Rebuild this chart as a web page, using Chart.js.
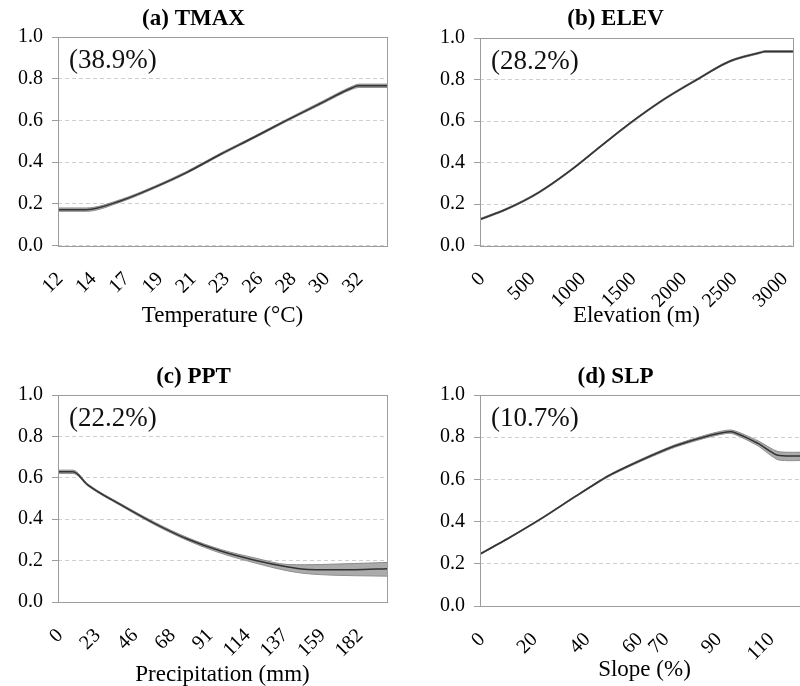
<!DOCTYPE html>
<html>
<head>
<meta charset="utf-8">
<script src="https://cdn.jsdelivr.net/npm/chart.js@4.4.0/dist/chart.umd.min.js"></script>
<style>
html, body { margin: 0; padding: 0; background: #fff; width: 800px; height: 686px; overflow: hidden; position: relative; }
.panel { position: absolute; }
</style>
</head>
<body>
<div class="panel" style="left:0px;top:0px"><canvas id="tmax" width="392" height="340"></canvas></div>
<div class="panel" style="left:422px;top:0px"><canvas id="elev" width="392" height="340"></canvas></div>
<div class="panel" style="left:0px;top:358px"><canvas id="ppt" width="392" height="340"></canvas></div>
<div class="panel" style="left:422px;top:358px"><canvas id="slp" width="392" height="340"></canvas></div>
<script>
// (a) TMAX - response vs temperature
const tmaxX    = [12, 13.9, 16.25, 18.5, 20.7, 23.0, 25.2, 27.45, 29.7, 31.9, 32.3, 34.2];
const tmaxMean = [0.172, 0.172, 0.215, 0.279, 0.351, 0.439, 0.518, 0.601, 0.681, 0.758, 0.766, 0.766];
const tmaxHigh = [0.180, 0.180, 0.221, 0.284, 0.356, 0.444, 0.523, 0.606, 0.687, 0.765, 0.774, 0.774];
const tmaxLow  = [0.164, 0.164, 0.209, 0.274, 0.346, 0.434, 0.513, 0.596, 0.675, 0.751, 0.758, 0.758];
const tmaxTicks = [12, 14.25, 16.5, 18.75, 21, 23.25, 25.5, 27.75, 30, 32.25];

// (b) ELEV
const elevX    = [0, 270, 580, 900, 1210, 1530, 1840, 2150, 2470, 2780, 2820, 3100];
const elevMean = [0.126, 0.177, 0.255, 0.363, 0.484, 0.605, 0.710, 0.800, 0.887, 0.930, 0.935, 0.935];
const elevHigh = [0.130, 0.181, 0.259, 0.367, 0.488, 0.609, 0.714, 0.804, 0.891, 0.934, 0.939, 0.939];
const elevLow  = [0.122, 0.173, 0.251, 0.359, 0.480, 0.601, 0.706, 0.796, 0.883, 0.926, 0.931, 0.931];
const elevTicks = [0, 500, 1000, 1500, 2000, 2500, 3000];

// (c) PPT
const pptX    = [0, 9.1, 18.2, 38.5, 58.7, 78.9, 99.1, 119.4, 139.6, 149.7, 159.8, 180, 199.6];
const pptMean = [0.629, 0.629, 0.565, 0.468, 0.379, 0.303, 0.245, 0.202, 0.169, 0.158, 0.156, 0.156, 0.161];
const pptHigh = [0.637, 0.637, 0.570, 0.473, 0.385, 0.310, 0.253, 0.213, 0.181, 0.180, 0.181, 0.186, 0.191];
const pptLow  = [0.621, 0.621, 0.560, 0.463, 0.373, 0.296, 0.235, 0.189, 0.150, 0.138, 0.132, 0.127, 0.125];
const pptTicks = [0, 22.75, 45.5, 68.25, 91, 113.75, 136.5, 159.25, 182];

// (d) SLP
const slpX    = [0, 10.8, 23.4, 36.1, 48.7, 61.4, 74.0, 86.6, 95.5, 105.6, 113.2, 125];
const slpMean = [0.246, 0.321, 0.415, 0.518, 0.616, 0.692, 0.758, 0.806, 0.826, 0.771, 0.714, 0.712];
const slpHigh = [0.249, 0.324, 0.418, 0.521, 0.620, 0.697, 0.764, 0.813, 0.834, 0.783, 0.732, 0.729];
const slpLow  = [0.243, 0.318, 0.412, 0.515, 0.612, 0.687, 0.752, 0.799, 0.818, 0.759, 0.693, 0.690];
const slpTicks = [0, 20, 40, 60, 70, 90, 110];

const yTicks = [0, 0.2, 0.4, 0.6, 0.8, 1.0];

const SERIF = "'Liberation Serif', 'Times New Roman', serif";

// frame round the plot area + the importance note
const framePlugin = {
    id: 'frame',
    afterDraw(chart, args, opts) {
        const { ctx, chartArea: a } = chart;
        ctx.save();
        ctx.strokeStyle = '#9c9c9c';
        ctx.lineWidth = 1;
        ctx.strokeRect(Math.round(a.left) + 0.5, Math.round(a.top) + 0.5,
            Math.round(a.right - a.left), Math.round(a.bottom - a.top));
        ctx.fillStyle = '#111';
        ctx.font = '27px ' + SERIF;
        ctx.textBaseline = 'middle';
        ctx.fillText(opts.note, a.left + 11, a.top + 24);
        ctx.restore();
    }
};

function pts(xs, ys) {
    return xs.map((x, i) => ({ x: x, y: ys[i] }));
}

function makeChart(id, cfg) {
    const lineMode = cfg.smooth ? { cubicInterpolationMode: 'monotone' } : { tension: 0.2 };
    new Chart(document.getElementById(id), {
        type: 'line',
        data: {
            datasets: [
                // mean line first so it is painted on top of the band
                Object.assign({
                    data: pts(cfg.xs, cfg.mean), fill: false,
                    borderColor: '#333333', borderWidth: 1.5, pointRadius: 0
                }, lineMode),
                Object.assign({
                    data: pts(cfg.xs, cfg.high), fill: '+1',
                    backgroundColor: 'rgba(150,150,150,0.8)', borderColor: '#8a8a8a',
                    borderWidth: 1, pointRadius: 0
                }, lineMode),
                Object.assign({
                    data: pts(cfg.xs, cfg.low), fill: false,
                    borderColor: '#8a8a8a', borderWidth: 1, pointRadius: 0
                }, lineMode)
            ]
        },
        options: {
            responsive: false,
            animation: false,
            events: [],
            layout: { padding: { right: 5, left: 0, top: 0, bottom: 0 } },
            plugins: {
                legend: { display: false },
                tooltip: { enabled: false },
                title: {
                    display: true, text: cfg.title, color: '#000',
                    font: { family: SERIF, size: 23, weight: 'bold' },
                    padding: { top: 5, bottom: cfg.top - 32.6 }
                },
                frame: { note: cfg.note }
            },
            scales: {
                x: {
                    type: 'linear', min: cfg.min, max: cfg.max,
                    afterBuildTicks: (s) => { s.ticks = cfg.ticks.map(v => ({ value: v })); },
                    afterFit: (s) => { s.height = 340 - cfg.bottom; },
                    grid: { display: false },
                    border: { display: false },
                    ticks: {
                        autoSkip: false, minRotation: 45, maxRotation: 45,
                        padding: 14, labelOffset: 2, color: '#000',
                        font: { family: SERIF, size: 20 },
                        callback: (v) => String(Math.round(v))
                    },
                    title: {
                        display: true, text: cfg.xTitle, color: '#000',
                        font: { family: SERIF, size: 23 },
                        padding: { top: 0, bottom: cfg.xTitlePad }
                    }
                },
                y: {
                    min: 0, max: 1,
                    afterBuildTicks: (s) => { s.ticks = yTicks.map(v => ({ value: v })); },
                    afterFit: (s) => { s.width = 58; },
                    border: { display: false, dash: [4, 3] },
                    grid: {
                        color: '#cfcfcf',
                        drawTicks: true, tickLength: 6, tickColor: '#9c9c9c', tickBorderDash: []
                    },
                    ticks: {
                        padding: 9, color: '#000',
                        font: { family: SERIF, size: 20 },
                        callback: (v) => v.toFixed(1)
                    }
                }
            }
        },
        plugins: [framePlugin]
    });
}

makeChart('tmax', {
    title: '(a) TMAX', xTitle: 'Temperature (°C)', note: '(38.9%)',
    xs: tmaxX, mean: tmaxMean, high: tmaxHigh, low: tmaxLow, ticks: tmaxTicks,
    min: 12, max: 34.2, smooth: true, top: 37, bottom: 245.5, xTitlePad: 10
});
makeChart('elev', {
    title: '(b) ELEV', xTitle: 'Elevation (m)', note: '(28.2%)',
    xs: elevX, mean: elevMean, high: elevHigh, low: elevLow, ticks: elevTicks,
    min: 0, max: 3100, smooth: true, top: 38, bottom: 245.5, xTitlePad: 10
});
makeChart('ppt', {
    title: '(c) PPT', xTitle: 'Precipitation (mm)', note: '(22.2%)',
    xs: pptX, mean: pptMean, high: pptHigh, low: pptLow, ticks: pptTicks,
    min: 0, max: 199.6, smooth: true, top: 37, bottom: 244, xTitlePad: 9
});
makeChart('slp', {
    title: '(d) SLP', xTitle: 'Slope (%)', note: '(10.7%)',
    xs: slpX, mean: slpMean, high: slpHigh, low: slpLow, ticks: slpTicks,
    min: 0, max: 125, smooth: false, top: 37, bottom: 248, xTitlePad: 14
});
</script>
</body>
</html>
